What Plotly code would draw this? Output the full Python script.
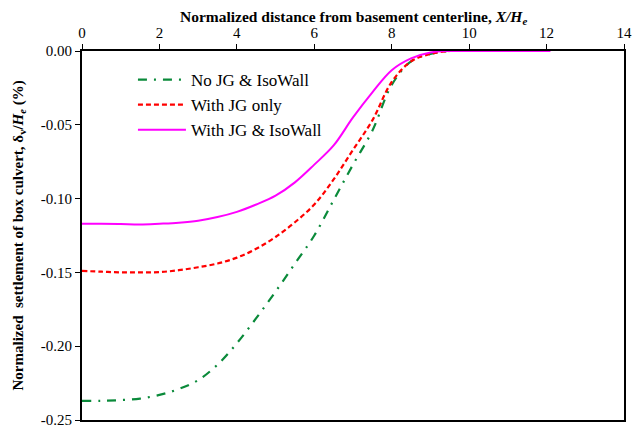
import plotly.graph_objects as go

x_vals = [0, 0.5, 1, 1.5, 2, 2.5, 3, 3.5, 4, 4.5, 5, 5.5, 6, 6.5, 7, 7.5, 8, 8.5, 9, 9.5, 10, 10.5, 11, 11.5, 12, 12.1]
no_jg = [-0.237, -0.237, -0.2365, -0.2355, -0.233, -0.229, -0.223, -0.2125, -0.198, -0.181, -0.163, -0.144, -0.125, -0.101, -0.077, -0.054, -0.023, -0.007, -0.002, 0.0, 0.0, 0.0, 0.0, 0.0, 0.0, 0.0]
jg_only = [-0.149, -0.1495, -0.150, -0.150, -0.1498, -0.1485, -0.1465, -0.144, -0.140, -0.134, -0.126, -0.116, -0.104, -0.087, -0.067, -0.047, -0.021, -0.007, -0.002, 0.0, 0.0, 0.0, 0.0, 0.0, 0.0, 0.0]
jg_iso = [-0.117, -0.117, -0.1172, -0.1175, -0.117, -0.1163, -0.115, -0.1125, -0.109, -0.104, -0.098, -0.089, -0.077, -0.064, -0.045, -0.028, -0.013, -0.005, -0.001, 0.0, 0.0, 0.0, 0.0, 0.0, 0.0, 0.0]

x_ticks = [0, 2, 4, 6, 8, 10, 12, 14]
y_ticks = [0.0, -0.05, -0.10, -0.15, -0.20, -0.25]
y_tick_text = ["0.00", "-0.05", "-0.10", "-0.15", "-0.20", "-0.25"]

font_family = "Liberation Serif"

fig = go.Figure()
fig.add_trace(go.Scatter(x=x_vals, y=no_jg, mode="lines", name="No JG & IsoWall",
                         line=dict(color="#0a8a3a", width=2.2, dash="9px,7px,2px,7px", shape="spline")))
fig.add_trace(go.Scatter(x=x_vals, y=jg_only, mode="lines", name="With JG only",
                         line=dict(color="#ff0000", width=2.2, dash="5px,3px", shape="spline")))
fig.add_trace(go.Scatter(x=x_vals, y=jg_iso, mode="lines", name="With JG & IsoWall",
                         line=dict(color="#ff00ff", width=2, shape="spline")))

fig.update_layout(
    width=633, height=427,
    margin=dict(l=82, r=9, t=51, b=7, autoexpand=False),
    paper_bgcolor="white", plot_bgcolor="white",
    font=dict(family=font_family, size=14, color="black"),
    showlegend=True,
    legend=dict(x=0.094, y=0.97, xanchor="left", yanchor="top",
                bgcolor="rgba(0,0,0,0)", font=dict(family=font_family, size=17, color="black"),
                tracegroupgap=0, itemwidth=48),
    xaxis=dict(range=[0, 14], side="top", tickvals=x_ticks, ticks="outside", ticklen=5,
               tickcolor="black", showline=True, linecolor="black", linewidth=2, mirror=True,
               showgrid=False, zeroline=False, automargin=False, ticklabeloverflow="allow",
               tickfont=dict(family=font_family, size=15, color="black")),
    yaxis=dict(range=[-0.25, 0], tickvals=y_ticks, ticktext=y_tick_text, ticks="outside", ticklen=5,
               tickcolor="black", showline=True, linecolor="black", linewidth=2, mirror=True,
               showgrid=False, zeroline=False, automargin=False, ticklabeloverflow="allow",
               tickfont=dict(family=font_family, size=15, color="black")),
)

fig.add_annotation(text="<b>Normalized distance from basement centerline, <i>X/H<sub>e</sub></i></b>",
                   xref="paper", yref="paper", x=0.5, y=1, yshift=34, showarrow=False,
                   font=dict(family=font_family, size=15.5, color="black"), xanchor="center", yanchor="middle")
fig.add_annotation(text="<b>Normalized  settlement of box culvert, δ<sub>v</sub>/<i>H<sub>e</sub></i> (%)</b>",
                   xref="paper", yref="paper", x=0, xshift=-64, y=0.5, showarrow=False, textangle=-90,
                   font=dict(family=font_family, size=15, color="black"), xanchor="center", yanchor="middle")

fig.write_html("out.html")
